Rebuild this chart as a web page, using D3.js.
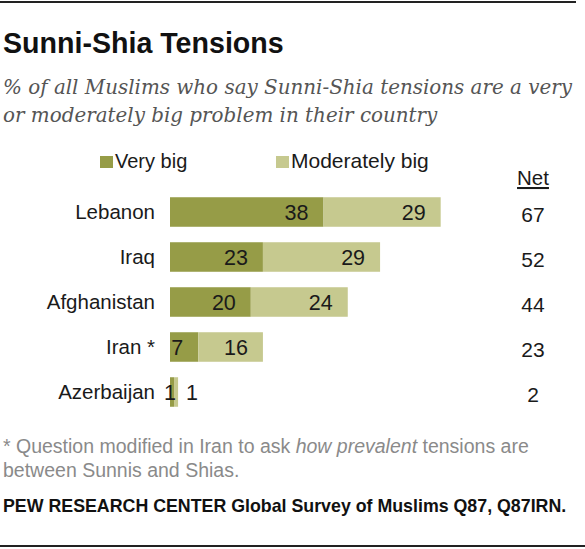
<!DOCTYPE html>
<html>
<head>
<meta charset="utf-8">
<script src="https://cdn.jsdelivr.net/npm/d3@7"></script>
<style>
  body { margin: 0; background: #fff; }
  svg { display: block; }
</style>
</head>
<body>
<div id="chart"></div>
<script>
// Sunni-Shia tensions, stacked horizontal bars
const countries = ['Lebanon', 'Iraq', 'Afghanistan', 'Iran *', 'Azerbaijan'];
const veryBig = [38, 23, 20, 7, 1];
const moderatelyBig = [29, 29, 24, 16, 1];
const netValues = [67, 52, 44, 23, 2];
const seriesNames = ['Very big', 'Moderately big'];

document.addEventListener('DOMContentLoaded', () => {
  const width = 585;
  const height = 549;
  const sans = '"Liberation Sans", Arial, sans-serif';
  const colors = ['#969c47', '#c6c98f'];

  const svg = d3.select('#chart')
    .append('svg')
    .attr('width', width)
    .attr('height', height);

  // Rules top and bottom
  svg.append('line')
    .attr('x1', 0).attr('x2', 576).attr('y1', 2).attr('y2', 2)
    .attr('stroke', '#222').attr('stroke-width', 2);
  svg.append('line')
    .attr('x1', 0).attr('x2', 585).attr('y1', 546).attr('y2', 546)
    .attr('stroke', '#222').attr('stroke-width', 2);

  // Title and subtitle
  svg.append('text')
    .attr('x', 3).attr('y', 53)
    .style('font-family', sans).style('font-weight', 'bold')
    .style('font-size', '28.6px').style('fill', '#111')
    .text('Sunni-Shia Tensions');

  const subtitle = [
    '% of all Muslims who say Sunni-Shia tensions are a very',
    'or moderately big problem in their country'
  ];
  svg.append('g').selectAll('text')
    .data(subtitle)
    .enter()
    .append('text')
    .attr('x', 3)
    .attr('y', (d, i) => 94 + i * 28)
    .style('font-family', '"DejaVu Serif", serif')
    .style('font-style', 'italic')
    .style('font-size', '19.9px')
    .style('fill', '#555')
    .text(d => d);

  // Data rows
  const rows = countries.map((c, i) => ({
    country: c,
    'Very big': veryBig[i],
    'Moderately big': moderatelyBig[i],
    net: netValues[i]
  }));

  const stack = d3.stack().keys(seriesNames)(rows);

  // X scale
  const x = d3.scaleLinear()
    .domain([0, 100])
    .range([170, 574]);

  // Y scale
  const y = d3.scaleBand()
    .domain(countries)
    .range([189.5, 414.5])
    .paddingInner(0.344)
    .paddingOuter(0.172);

  // Legend
  const legendX = [100, 276];
  const legendSize = ['20px', '21px'];
  const legend = svg.append('g').selectAll('g')
    .data(seriesNames)
    .enter()
    .append('g')
    .attr('transform', (d, i) => `translate(${legendX[i]},156)`);
  legend.append('rect')
    .attr('width', 13).attr('height', 12)
    .attr('fill', (d, i) => colors[i]);
  legend.append('text')
    .attr('x', 15).attr('y', 12)
    .style('font-family', sans).style('font-size', (d, i) => legendSize[i]).style('fill', '#1a1a1a')
    .text(d => d);

  // Country labels
  svg.append('g').selectAll('text')
    .data(countries)
    .enter()
    .append('text')
    .attr('x', 155)
    .attr('y', d => y(d) + y.bandwidth() / 2 + 7)
    .attr('text-anchor', 'end')
    .style('font-family', sans).style('font-size', '20.5px').style('fill', '#1a1a1a')
    .text(d => d);

  // Bars
  const layer = svg.append('g').selectAll('g')
    .data(stack)
    .enter()
    .append('g')
    .attr('fill', (d, i) => colors[i]);

  layer.selectAll('rect')
    .data(d => d)
    .enter()
    .append('rect')
    .attr('x', d => x(d[0]))
    .attr('y', d => y(d.data.country))
    .attr('width', d => x(d[1]) - x(d[0]))
    .attr('height', y.bandwidth());

  // Segment values
  stack.forEach((s, si) => {
    svg.append('g').selectAll('text')
      .data(s)
      .enter()
      .append('text')
      .attr('x', d => {
        const w = x(d[1]) - x(d[0]);
        if (w >= 20) return x(d[1]) - 15;
        return si === 0 ? x(d[0]) : x(d[1]) + 8;
      })
      .attr('text-anchor', d => {
        const w = x(d[1]) - x(d[0]);
        if (w >= 20) return 'end';
        return si === 0 ? 'middle' : 'start';
      })
      .attr('y', d => y(d.data.country) + y.bandwidth() / 2 + 8)
      .style('font-family', sans).style('font-size', '21.5px').style('fill', '#1a1a1a')
      .text(d => d[1] - d[0]);
  });

  // Net column
  svg.append('text')
    .attr('x', 533).attr('y', 185)
    .attr('text-anchor', 'middle')
    .style('font-family', sans).style('font-size', '20.5px').style('fill', '#1a1a1a')
    .style('text-decoration', 'underline')
    .text('Net');

  svg.append('g').selectAll('text')
    .data(rows)
    .enter()
    .append('text')
    .attr('x', 533)
    .attr('y', d => y(d.country) + y.bandwidth() / 2 + 10)
    .attr('text-anchor', 'middle')
    .style('font-family', sans).style('font-size', '21px').style('fill', '#1a1a1a')
    .text(d => d.net);

  // Footnote
  const note = svg.append('text')
    .attr('x', 3).attr('y', 453)
    .style('font-family', sans).style('font-size', '19.5px').style('fill', '#8a8a8a');
  note.append('tspan').text('* Question modified in Iran to ask ');
  note.append('tspan').style('font-style', 'italic').text('how prevalent');
  note.append('tspan').text(' tensions are');
  svg.append('text')
    .attr('x', 3).attr('y', 477)
    .style('font-family', sans).style('font-size', '19.5px').style('fill', '#8a8a8a')
    .text('between Sunnis and Shias.');

  // Source
  svg.append('text')
    .attr('x', 3).attr('y', 512)
    .style('font-family', sans).style('font-weight', 'bold')
    .style('font-size', '17.8px').style('fill', '#111')
    .text('PEW RESEARCH CENTER Global Survey of Muslims Q87, Q87IRN.');
});
</script>
</body>
</html>
